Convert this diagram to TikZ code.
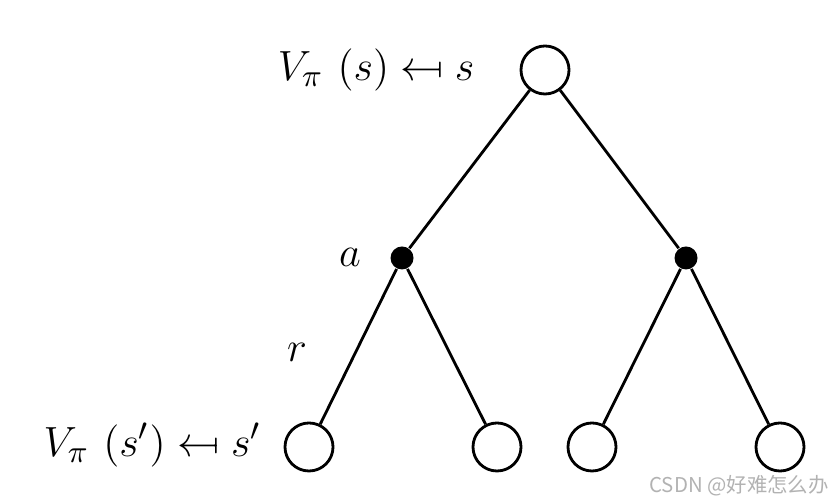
\documentclass[tikz,border=0pt]{standalone}
\usepackage{amsmath}
\usepackage{stmaryrd}
\usepackage{fontspec}
\newfontfamily\cjk{Noto Sans CJK SC}
\usetikzlibrary{math}

\tikzset{
  state/.style={draw,circle,line width=0.8pt,minimum size=0.48cm,inner sep=0pt,fill=white},
  act/.style={circle,fill=black,minimum size=0.23cm,inner sep=0pt},
  edge/.style={line width=0.8pt},
  lbl/.style={font=\fontsize{12.8}{15}\selectfont,inner sep=0pt}
}

\begin{document}
\begin{tikzpicture}[x=0.01cm,y=-0.01cm]
\tikzmath{
\yr=70;
\ya=258;
\yl=447;
}
\useasboundingbox (0,0) rectangle (831,501);

\node[state] (s) at (545,\yr) {};
\node[act] (a1) at (402,\ya) {};
\node[act] (a2) at (686,\ya) {};

\node[state] (l1) at (309,\yl) {};
\node[state] (l2) at (497,\yl) {};
\node[state] (l3) at (592,\yl) {};
\node[state] (l4) at (780,\yl) {};

\draw[edge] (s) -- (a1);
\draw[edge] (s) -- (a2);
\draw[edge] (a1) -- (l1);
\draw[edge] (a1) -- (l2);
\draw[edge] (a2) -- (l3);
\draw[edge] (a2) -- (l4);

\node[lbl,anchor=east] (vs) at (475,\yr) {$V_\pi\,\left(s\right)\mapsfrom s$};
\node[lbl,anchor=east] (vsp) at (262,445) {$V_\pi\,\left(s'\right)\mapsfrom s'$};
\node[lbl] (la) at (350,257) {$a$};
\node[lbl] (lr) at (297,352) {$r$};

% watermark
\node[text=black!30,font=\cjk\fontsize{5.8}{7}\selectfont,inner sep=0pt] (wm) at (739,486) {CSDN @好难怎么办};
\end{tikzpicture}
\end{document}
